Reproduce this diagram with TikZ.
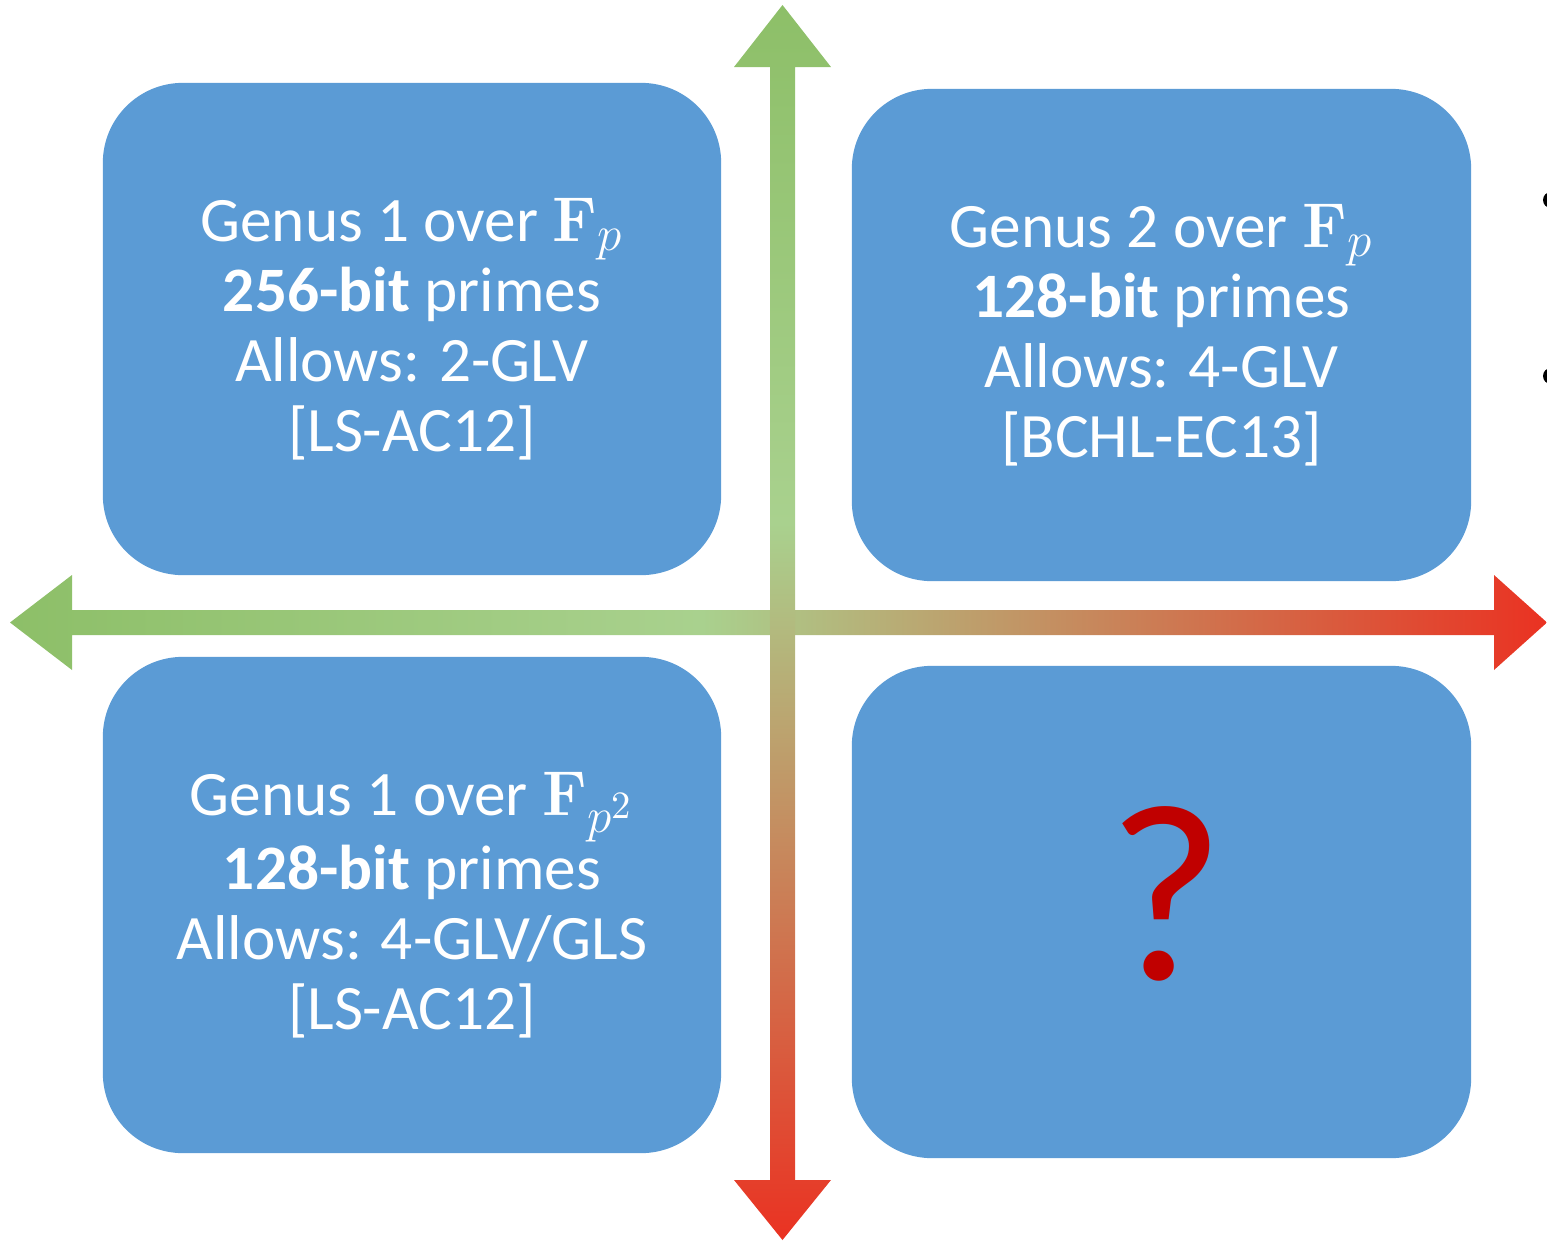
\RequirePackage{fix-cm}
\documentclass[tikz,border=0pt]{standalone}
\usepackage[no-math]{fontspec}
\setmainfont{Carlito}
\usepackage{tikz}
\DeclareMathSizes{18}{18}{14}{11}

\definecolor{boxblue}{RGB}{91,155,213}
\definecolor{axgreen}{RGB}{141,191,104}
\definecolor{axlight}{RGB}{169,209,142}
\definecolor{axred}{RGB}{234,50,34}
\definecolor{qred}{RGB}{192,0,0}

\pgfdeclarehorizontalshading{axisx}{100bp}{color(0bp)=(axgreen); color(25bp)=(axgreen);
  color(47.5bp)=(axlight); color(75bp)=(axred); color(100bp)=(axred)}
\pgfdeclareverticalshading{axisy}{100bp}{color(0bp)=(axred); color(25bp)=(axred);
  color(54bp)=(axlight); color(75bp)=(axgreen); color(100bp)=(axgreen)}

\tikzset{
  quad/.style={fill=boxblue, rounded corners=0.8cm, text=white, align=center,
    inner sep=0pt, font=\fontsize{18}{19.9}\selectfont},
}

\begin{document}
\begin{tikzpicture}[x=0.01cm, y=-0.01cm]
  \useasboundingbox (0,0) rectangle (1547,1242);

  \node[quad, minimum width=6.18cm, minimum height=4.92cm] (LT) at (412,329)
    {Genus 1 over $\mathbf{F}_p$\\\textbf{256-bit} primes\\Allows: 2-GLV\\{[LS-AC12]}};
  \node[quad, minimum width=6.19cm, minimum height=4.92cm] (RT) at (1161.5,335)
    {Genus 2 over $\mathbf{F}_p$\\\textbf{128-bit} primes\\Allows: 4-GLV\\{[BCHL-EC13]}};
  \node[quad, minimum width=6.18cm, minimum height=4.96cm] (LB) at (412,905)
    {Genus 1 over $\mathbf{F}_{p^2}$\\\textbf{128-bit} primes\\Allows: 4-GLV/GLS\\{[LS-AC12]}};
  \node[quad, minimum width=6.19cm, minimum height=4.92cm] (RB) at (1161.5,912) {};
  \node[text=qred, font=\fontsize{72}{74}\selectfont] (Q) at (1166,894) {?};

  % axes
  \coordinate (W) at (10,622.5);
  \coordinate (E) at (1547,622.5);
  \coordinate (N) at (782.5,5);
  \coordinate (S) at (782.5,1240);
  \shade[shading=axisx] (W) -- (72,575) -- (72,610) -- (1494,610) -- (1494,575) -- (E)
    -- (1494,670) -- (1494,635) -- (72,635) -- (72,670) -- cycle;
  \shade[shading=axisy] (N) -- (831,67) -- (795,67) -- (795,1180) -- (831,1180) -- (S)
    -- (734,1180) -- (770,1180) -- (770,67) -- (734,67) -- cycle;

  \fill (1551,200) circle (8);
  \fill (1551,376) circle (8);
\end{tikzpicture}
\end{document}
